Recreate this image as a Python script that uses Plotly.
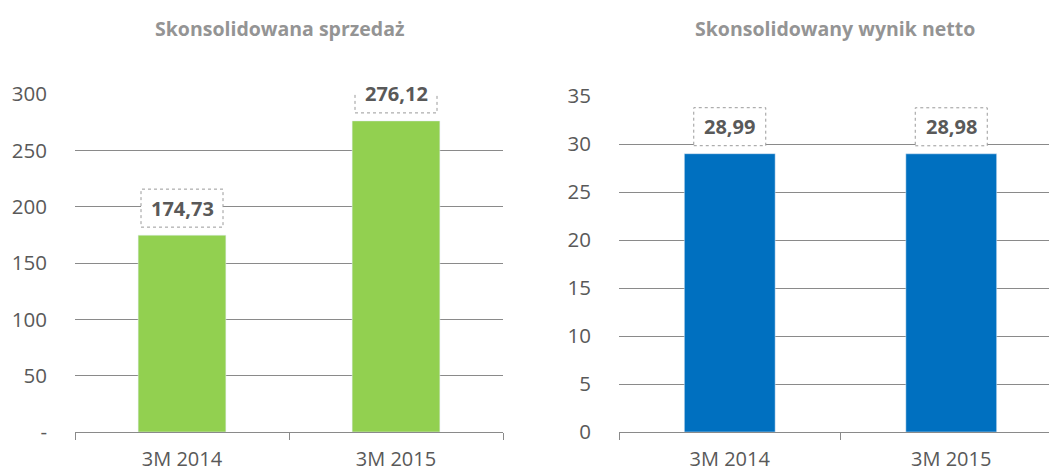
import plotly.graph_objects as go

categories = ["3M 2014", "3M 2015"]
sales = [174.73, 276.12]
net_profit = [28.99, 28.98]
sales_labels = ["174,73", "276,12"]
profit_labels = ["28,99", "28,98"]
title_left = "Skonsolidowana sprzedaż"
title_right = "Skonsolidowany wynik netto"
left_ticks = [0, 50, 100, 150, 200, 250, 300]
left_ticktext = ["-", "50", "100", "150", "200", "250", "300"]
right_ticks = [0, 5, 10, 15, 20, 25, 30, 35]

OFF = 8  # page body margin
W, H = 1057 - OFF, 471 - OFF
FONT = "Open Sans"
TXT = "#595959"
GRID = "#8a8a8a"


def px_x(x):
    return (x - OFF) / W


def px_y(y):
    return (H - (y - OFF)) / H


fig = go.Figure()
fig.add_trace(go.Bar(x=categories, y=sales, marker_color="#92D050", xaxis="x", yaxis="y",
                     hoverinfo="skip", showlegend=False))
fig.add_trace(go.Bar(x=categories, y=net_profit, marker_color="#0070C0", xaxis="x2", yaxis="y2",
                     hoverinfo="skip", showlegend=False))

common_x = dict(type="category", showline=True, linecolor=GRID, linewidth=1,
                ticks="outside", tickson="boundaries", ticklen=7, tickcolor=GRID,
                showgrid=False, tickfont=dict(family=FONT, size=20, color=TXT),
                ticklabelstandoff=9, automargin=False, fixedrange=True)
common_y = dict(showgrid=True, gridcolor=GRID, gridwidth=1, zeroline=False,
                showline=False, ticks="", ticklabelstandoff=27, automargin=False,
                tickfont=dict(family=FONT, size=20.5, color=TXT), fixedrange=True)

annotations = []
shapes = []


def add_labels(xref, yref, values, labels):
    for i, (v, lab) in enumerate(zip(values, labels)):
        bw = 10 * len(lab) + 22
        shapes.append(dict(type="rect", xref=xref, yref=yref,
                           xsizemode="pixel", xanchor=i, x0=-bw / 2, x1=bw / 2,
                           ysizemode="pixel", yanchor=v, y0=8, y1=46,
                           line=dict(color="#9a9a9a", width=1, dash="dot"),
                           fillcolor="white", layer="above"))
        annotations.append(dict(x=i, y=v, xref=xref, yref=yref, text="<b>%s</b>" % lab,
                                showarrow=False, yshift=27, xanchor="center", yanchor="middle",
                                font=dict(family=FONT, size=20, color=TXT)))


add_labels("x", "y", sales, sales_labels)
add_labels("x2", "y2", net_profit, profit_labels)

annotations.append(dict(x=px_x(279), y=px_y(28), xref="paper", yref="paper",
                        text="<b>%s</b>" % title_left, showarrow=False,
                        xanchor="center", yanchor="middle",
                        font=dict(family=FONT, size=19.5, color="#949494")))
annotations.append(dict(x=px_x(835), y=px_y(28), xref="paper", yref="paper",
                        text="<b>%s</b>" % title_right, showarrow=False,
                        xanchor="center", yanchor="middle",
                        font=dict(family=FONT, size=19.5, color="#949494")))

right_span = 221.5
right_end = -0.5 + (1057 - 619) / right_span

fig.update_layout(
    width=W, height=H,
    margin=dict(l=0, r=0, t=0, b=0, autoexpand=False),
    paper_bgcolor="white", plot_bgcolor="white",
    bargap=0.59,
    xaxis=dict(domain=[px_x(75), px_x(503)], range=[-0.5, 1.5], anchor="y", **common_x),
    yaxis=dict(domain=[px_y(432), px_y(94)], range=[0, 300], tickvals=left_ticks,
               ticktext=left_ticktext, anchor="x", **common_y),
    xaxis2=dict(domain=[px_x(619), 1.0], range=[-0.5, right_end], anchor="y2", **common_x),
    yaxis2=dict(domain=[px_y(432), px_y(96)], range=[0, 35], tickvals=right_ticks,
                anchor="x2", **common_y),
    annotations=annotations,
    shapes=shapes,
)

fig.write_html("out.html")
